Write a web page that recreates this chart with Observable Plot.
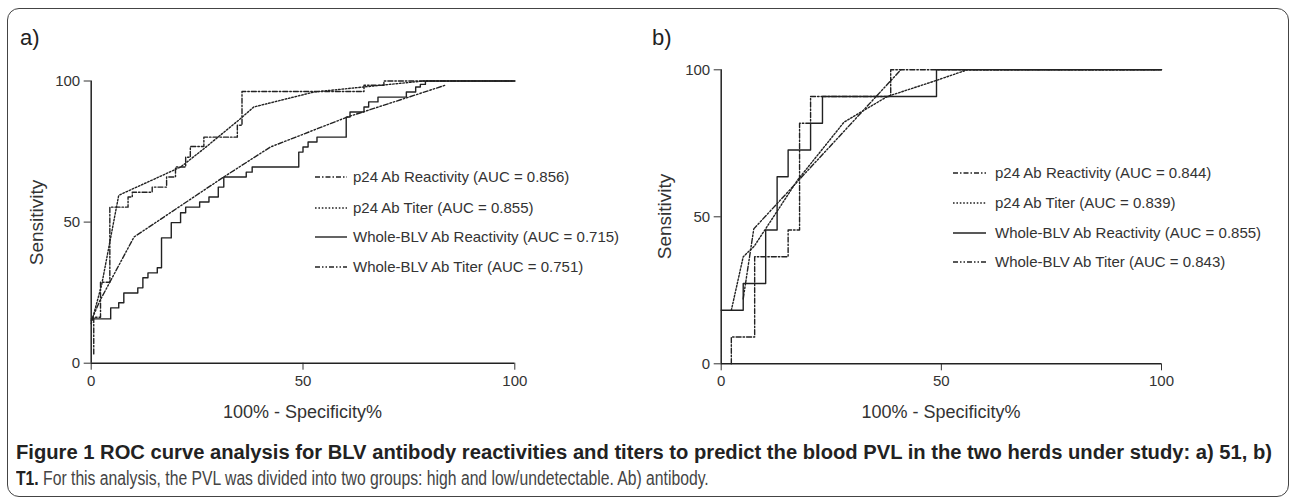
<!DOCTYPE html>
<html><head><meta charset="utf-8">
<script src="https://cdn.jsdelivr.net/npm/d3@7"></script>
<script src="https://cdn.jsdelivr.net/npm/@observablehq/plot@0.6"></script>
<style>
html,body{margin:0;padding:0;background:#fff;}
#wrap{position:relative;width:1292px;height:499px;overflow:hidden;font-family:"Liberation Sans",Arial,sans-serif;color:#333;}
.frame{position:absolute;left:7px;top:8px;width:1282px;height:489px;border:1.5px solid #444;border-radius:12px;box-sizing:border-box;}
.abs{position:absolute;white-space:nowrap;line-height:1;}
.plot{position:absolute;top:0;}
.lg{position:absolute;white-space:nowrap;font-size:15px;line-height:1;}
.cap{position:absolute;left:16px;white-space:nowrap;font-family:"Liberation Sans",Arial,sans-serif;font-size:20px;line-height:1;transform-origin:0 50%;}
</style></head>
<body><div id="wrap"><div class="frame"></div></div>
<script>
// ---------- data ----------
const seriesNames = ["p24 Ab Reactivity", "p24 Ab Titer", "Whole-BLV Ab Reactivity", "Whole-BLV Ab Titer"];
const aucA = ["0.856", "0.855", "0.715", "0.751"];
const aucB = ["0.844", "0.839", "0.855", "0.843"];
const xTicks = [0, 50, 100];
const yTicks = [0, 50, 100];

// Panel a) herd 51
const aP24ReactX = [0.6, 0.6, 2.2, 4.4, 8.7, 9.7, 14.4, 17.8, 19.9, 22.3, 23.4, 26.6, 34.5, 35.6, 64.4, 69.1, 100];
const aP24ReactY = [3.3, 16.3, 28.7, 55.3, 58.9, 60.6, 62.4, 66.0, 69.5, 73.0, 76.8, 80.1, 84.3, 96.3, 98.5, 100, 100];
const aP24TiterX = [0, 2.5, 6.5, 21.1, 26.6, 35.2, 38.4, 52.6, 64.4, 78.5, 100];
const aP24TiterY = [14, 28, 59.5, 69.5, 76.0, 86.6, 90.8, 96.1, 97.9, 100, 100];
const aWholeReactX = [0, 4.6, 6.5, 7.7, 11.0, 12.2, 13.4, 15.6, 16.6, 18.9, 21.1, 22.3, 25.6, 27.8, 30.0, 31.3, 36.6, 38.0, 49.0, 50.0, 51.2, 53.3, 60.2, 61.1, 64.4, 65.5, 67.7, 74.4, 76.6, 77.7, 78.9, 100];
const aWholeReactY = [15.7, 19.6, 21.4, 24.9, 26.7, 30.3, 32.0, 33.8, 44.4, 49.8, 53.3, 55.3, 57.1, 58.9, 62.4, 66.0, 67.7, 69.5, 74.8, 76.6, 78.4, 80.1, 87.2, 89.0, 90.8, 92.6, 94.3, 96.1, 97.9, 98.8, 100, 100];
const aWholeTiterX = [0, 2, 10.1, 31.3, 42.3, 60.4, 83.6];
const aWholeTiterY = [15, 22, 44.7, 66.0, 76.6, 87.2, 98.5];

// Panel b) herd T1
const bP24ReactX = [2.3, 2.3, 7.6, 15.2, 17.8, 20.3, 38.5, 100];
const bP24ReactY = [0, 9.1, 36.4, 45.5, 81.8, 90.9, 100, 100];
const bP24TiterX = [2.3, 5.0, 7.5, 17.3, 27.9, 37.7, 48.3, 55.9, 100];
const bP24TiterY = [18.2, 36.4, 40, 62.4, 82.2, 90.9, 96.1, 100, 100];
const bWholeReactX = [0, 5.0, 10.1, 12.7, 15.2, 20.3, 23.0, 48.9, 100];
const bWholeReactY = [18.2, 27.3, 45.5, 63.6, 72.7, 81.8, 90.9, 100, 100];
const bWholeTiterX = [5.0, 7.4, 40.8];
const bWholeTiterY = [22.1, 45.9, 100];

// ---------- styles ----------
const lineStyle = {
  "p24 Ab Reactivity": {curve: "step-after", dash: "5,2,1.5,2"},
  "p24 Ab Titer": {curve: "linear", dash: "1.6,1.8"},
  "Whole-BLV Ab Reactivity": {curve: "step-after", dash: null},
  "Whole-BLV Ab Titer": {curve: "linear", dash: "5,2,1.5,2,1.5,2"}
};
const INK = "#222";

function rows(xs, ys) { return xs.map((x, i) => ({x, y: ys[i]})); }

const wrap = document.getElementById("wrap");

function makePanel(cfg) {
  const marks = [
    Plot.ruleX([0], {stroke: INK, strokeWidth: 1.5}),
    Plot.ruleY([0], {stroke: INK, strokeWidth: 1.5})
  ];
  cfg.series.forEach((d, i) => {
    const st = lineStyle[seriesNames[i]];
    marks.push(Plot.line(rows(d[0], d[1]), {
      x: "x", y: "y", curve: st.curve, stroke: INK, strokeWidth: 1.4,
      strokeDasharray: st.dash || undefined
    }));
  });
  const svg = Plot.plot({
    width: cfg.width, height: cfg.height,
    marginLeft: cfg.ml, marginRight: cfg.mr, marginTop: cfg.mt, marginBottom: cfg.mb,
    x: {domain: [0, 100], ticks: xTicks, tickSize: 7, tickPadding: 5, label: null},
    y: {domain: [0, 100], ticks: yTicks, tickSize: 7, tickPadding: 4, label: null},
    style: {background: "transparent", fontFamily: "'Liberation Sans', Arial, sans-serif", fontSize: "15px", color: "#333", overflow: "visible"},
    marks
  });
  svg.classList.add("plot");
  svg.style.left = cfg.left + "px";
  wrap.appendChild(svg);

  // legend
  cfg.legendRows.forEach((ry, i) => {
    const st = lineStyle[seriesNames[i]];
    const ns = "http://www.w3.org/2000/svg";
    const s = document.createElementNS(ns, "svg");
    s.setAttribute("width", cfg.lgW); s.setAttribute("height", 6);
    s.style.position = "absolute"; s.style.left = cfg.lgX + "px"; s.style.top = (ry - 3) + "px";
    const l = document.createElementNS(ns, "line");
    l.setAttribute("x1", 0); l.setAttribute("x2", cfg.lgW); l.setAttribute("y1", 3); l.setAttribute("y2", 3);
    l.setAttribute("stroke", INK); l.setAttribute("stroke-width", 1.4);
    if (st.dash) l.setAttribute("stroke-dasharray", st.dash);
    s.appendChild(l); wrap.appendChild(s);
    const t = document.createElement("div");
    t.className = "lg";
    t.textContent = seriesNames[i] + " (AUC = " + cfg.auc[i] + ")";
    t.style.left = cfg.lgTextX + "px"; t.style.top = (ry - 8) + "px";
    wrap.appendChild(t);
  });
}

makePanel({
  left: 0, width: 600, height: 400, ml: 90.7, mr: 85.7, mt: 80.5, mb: 37.3,
  series: [[aP24ReactX, aP24ReactY], [aP24TiterX, aP24TiterY], [aWholeReactX, aWholeReactY], [aWholeTiterX, aWholeTiterY]],
  legendRows: [177, 208, 237, 267], lgX: 315, lgW: 32, lgTextX: 353, auc: aucA
});
makePanel({
  left: 640, width: 600, height: 400, ml: 80.7, mr: 79, mt: 69.3, mb: 36.7,
  series: [[bP24ReactX, bP24ReactY], [bP24TiterX, bP24TiterY], [bWholeReactX, bWholeReactY], [bWholeTiterX, bWholeTiterY]],
  legendRows: [173, 203, 233, 262], lgX: 953, lgW: 33, lgTextX: 995, auc: aucB
});

function addText(txt, x, y, css, anchor) {
  const d = document.createElement("div");
  d.className = "abs";
  d.textContent = txt;
  Object.assign(d.style, css);
  wrap.appendChild(d);
  const w = d.offsetWidth, h = d.offsetHeight;
  if (anchor === "center") { d.style.left = (x - w / 2) + "px"; d.style.top = (y - h / 2) + "px"; }
  else { d.style.left = x + "px"; d.style.top = (y - h / 2) + "px"; }
  return d;
}
function addRotated(txt, cx, cy, css) {
  const d = addText(txt, cx, cy, css, "center");
  d.style.transform = "rotate(-90deg)";
  return d;
}

addText("a)", 20, 38, {fontSize: "22px", color: "#222"});
addText("b)", 652, 38, {fontSize: "22px", color: "#222"});
addRotated("Sensitivity", 37, 222, {fontSize: "19px", color: "#333"});
addRotated("Sensitivity", 665, 216, {fontSize: "19px", color: "#333"});
addText("100% - Specificity%", 302.5, 412, {fontSize: "18px", color: "#333"}, "center");
addText("100% - Specificity%", 941, 412, {fontSize: "18px", color: "#333"}, "center");

// caption (condensed look: scale text horizontally to the reference line lengths)
function fitWidth(el, target) {
  const w = el.offsetWidth;
  el.style.transform = "scaleX(" + (target / w) + ")";
}
const cap1 = document.createElement("div");
cap1.className = "cap"; cap1.style.top = "442px"; cap1.style.fontWeight = "bold"; cap1.style.color = "#222";
cap1.textContent = "Figure 1 ROC curve analysis for BLV antibody reactivities and titers to predict the blood PVL in the two herds under study: a) 51, b)";
wrap.appendChild(cap1);
fitWidth(cap1, 1256);
const cap2 = document.createElement("div");
cap2.className = "cap"; cap2.style.top = "468px"; cap2.style.color = "#444";
const b2 = document.createElement("b"); b2.textContent = "T1."; b2.style.color = "#222";
cap2.appendChild(b2);
cap2.appendChild(document.createTextNode(" For this analysis, the PVL was divided into two groups: high and low/undetectable. Ab) antibody."));
wrap.appendChild(cap2);
fitWidth(cap2, 693);
</script>
</body></html>
